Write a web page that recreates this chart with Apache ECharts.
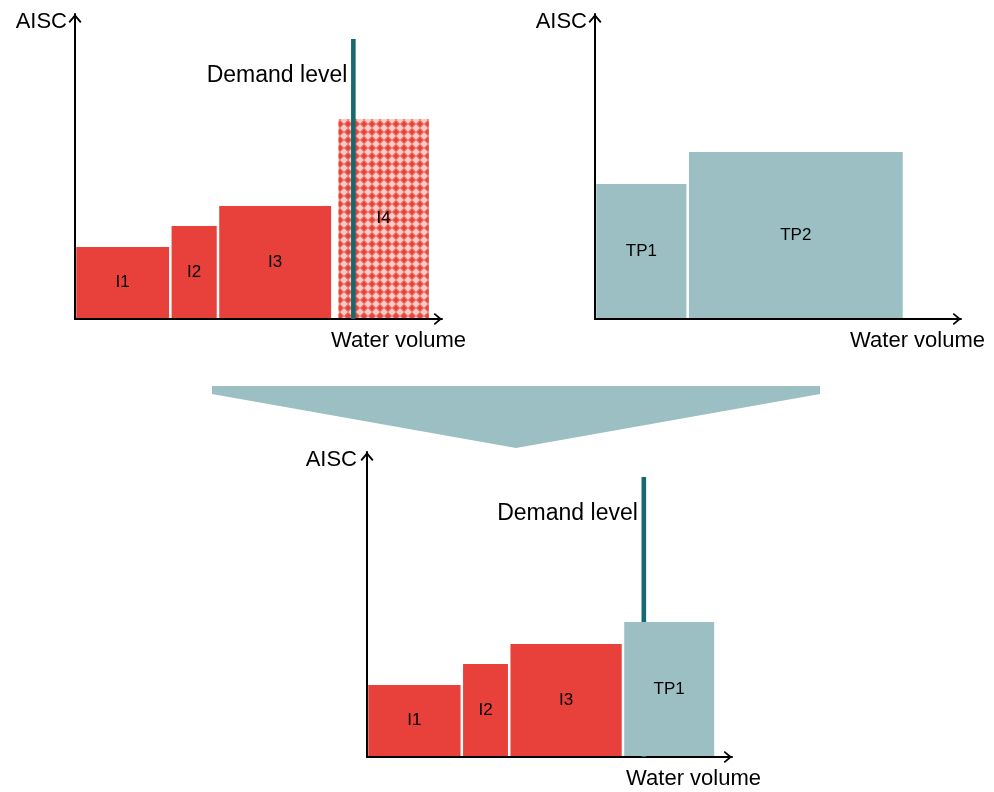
<!DOCTYPE html>
<html>
<head>
<meta charset="utf-8">
<script src="https://cdn.jsdelivr.net/npm/echarts@6/dist/echarts.min.js"></script>
<style>
  html, body { margin: 0; padding: 0; background: #ffffff; }
  #chart { width: 994px; height: 792px; }
</style>
</head>
<body>
<div id="chart"></div>
<script>
// Irrigation supply options: volume range [start, end] and average incremental supply cost
const irrNames = ['I1', 'I2', 'I3', 'I4'];
const irrStart = [0, 20, 30, 55];
const irrEnd = [20, 30, 54, 74.5];
const irrCost = [7.2, 9.3, 11.3, 20.0];
const irrHatched = [false, false, false, true];

// Treatment plant options
const tpNames = ['TP1', 'TP2'];
const tpStart = [0, 19.5];
const tpEnd = [19.5, 65];
const tpCost = [13.5, 16.7];

// Combined least-cost supply curve
const mixNames = ['I1', 'I2', 'I3', 'TP1'];
const mixStart = [0, 20, 30, 54];
const mixEnd = [20, 30, 54, 73.5];
const mixCost = [7.2, 9.3, 11.3, 13.5];
const mixKind = ['irr', 'irr', 'irr', 'tp'];

// Demand level marker
const demandVolume = 58.4;
const demandHeight = 28;
const demandLabelAt = 24.35;
const demandText = 'Demand level';

// Axis titles
const yTitle = 'AISC';
const xTitle = 'Water volume';

const FONT = '"Liberation Sans", Arial, Helvetica, sans-serif';
const RED = '#E8403A';
const TEAL = '#9BBFC2';
const DEMAND = '#176970';
const GAP = 1.25;
const X_MAX = 77;
const Y_MAX = 30.5;

// Diamond-lattice fill for the irrigation option lying beyond demand
function makeHatch() {
  const c = document.createElement('canvas');
  c.width = 8; c.height = 8;
  const g = c.getContext('2d');
  for (let y = 0; y < 8; y++) {
    for (let x = 0; x < 8; x++) {
      const d = Math.abs(x - 3.5) + Math.abs(y - 3.5);
      g.fillStyle = d <= 3 ? '#EC5D54' : (d <= 4 ? '#F08880' : '#F9CBC7');
      g.fillRect(x, y, 1, 1);
    }
  }
  g.fillStyle = '#E8443A';
  g.fillRect(3, 2, 2, 4);
  g.fillRect(2, 3, 4, 2);
  return { image: c, repeat: 'repeat' };
}
const hatch = makeHatch();

// Open arrow head for axis ends
const ARROW = 'path://M6 0 L12 7.2 L10.7 8.3 L6 2.8 L1.3 8.3 L0 7.2 Z';

function makeXAxis(gridIndex, nameGap) {
  return {
    gridIndex, type: 'value', min: 0, max: X_MAX,
    name: xTitle, nameLocation: 'end', nameGap: nameGap,
    nameTextStyle: { fontSize: 22, fontFamily: FONT, color: '#000', align: 'right', verticalAlign: 'top', padding: [11, 0, 0, 0] },
    axisLine: { show: true, lineStyle: { color: '#000', width: 2 }, symbol: ['none', ARROW], symbolSize: [12, 8.3], symbolOffset: [0, -4.15] },
    axisTick: { show: false }, axisLabel: { show: false }, splitLine: { show: false }
  };
}
function makeYAxis(gridIndex, padRight) {
  return {
    gridIndex, type: 'value', min: 0, max: Y_MAX,
    name: yTitle, nameLocation: 'end', nameGap: -8,
    nameTextStyle: { fontSize: 22, fontFamily: FONT, color: '#000', align: 'right', verticalAlign: 'middle', padding: [0, padRight, 0, 0] },
    axisLine: { show: true, lineStyle: { color: '#000', width: 2 }, symbol: ['none', ARROW], symbolSize: [13, 9], symbolOffset: [0, -4.5] },
    axisTick: { show: false }, axisLabel: { show: false }, splitLine: { show: false }
  };
}

function blockRenderer(names, fills) {
  return function (params, api) {
    const i = params.dataIndex;
    const p0 = api.coord([api.value(0), 0]);
    const p1 = api.coord([api.value(1), api.value(2)]);
    return {
      type: 'rect',
      shape: { x: p0[0] + GAP, y: p1[1], width: p1[0] - p0[0] - 2 * GAP, height: p0[1] - p1[1] - 1 },
      style: { fill: fills[i] },
      textContent: { type: 'text', style: { text: names[i], fontSize: 17, fontFamily: FONT, fill: '#000' } },
      textConfig: { position: 'inside' }
    };
  };
}

function demandRenderer(params, api) {
  const base = api.coord([api.value(0), 0]);
  const top = api.coord([api.value(0), api.value(1)]);
  const lbl = api.coord([api.value(0), api.value(2)]);
  return {
    type: 'group',
    children: [
      { type: 'rect', shape: { x: base[0] - 2.3, y: top[1], width: 4.6, height: base[1] - top[1] }, style: { fill: DEMAND } },
      { type: 'text', x: lbl[0] - 6, y: lbl[1],
        style: { text: demandText, fontSize: 23, fontFamily: FONT, fill: '#000', align: 'right', verticalAlign: 'middle' } }
    ]
  };
}

const irrData = irrStart.map((s, i) => [s, irrEnd[i], irrCost[i]]);
const tpData = tpStart.map((s, i) => [s, tpEnd[i], tpCost[i]]);
const mixData = mixStart.map((s, i) => [s, mixEnd[i], mixCost[i]]);
const demandData = [[demandVolume, demandHeight, demandLabelAt]];

const option = {
  animation: false,
  backgroundColor: '#ffffff',
  grid: [
    { left: 75, top: 14, width: 367, height: 305 },
    { left: 595, top: 14, width: 366, height: 305 },
    { left: 367, top: 452, width: 365, height: 305 }
  ],
  xAxis: [makeXAxis(0, 24), makeXAxis(1, 24), makeXAxis(2, 29)],
  yAxis: [makeYAxis(0, 8), makeYAxis(1, 8), makeYAxis(2, 10)],
  series: [
    {
      type: 'custom', name: 'Irrigation', xAxisIndex: 0, yAxisIndex: 0, z: 2,
      renderItem: blockRenderer(irrNames, irrHatched.map(h => h ? hatch : RED)),
      encode: { x: [0, 1], y: 2 }, data: irrData
    },
    {
      type: 'custom', name: 'Demand', xAxisIndex: 0, yAxisIndex: 0, z: 3,
      renderItem: demandRenderer, encode: { x: 0, y: 1 }, data: demandData
    },
    {
      type: 'custom', name: 'Treatment plants', xAxisIndex: 1, yAxisIndex: 1, z: 2,
      renderItem: blockRenderer(tpNames, tpNames.map(() => TEAL)),
      encode: { x: [0, 1], y: 2 }, data: tpData
    },
    {
      type: 'custom', name: 'Demand (combined)', xAxisIndex: 2, yAxisIndex: 2, z: 1,
      renderItem: demandRenderer, encode: { x: 0, y: 1 }, data: demandData
    },
    {
      type: 'custom', name: 'Combined', xAxisIndex: 2, yAxisIndex: 2, z: 2,
      renderItem: blockRenderer(mixNames, mixKind.map(k => k === 'tp' ? TEAL : RED)),
      encode: { x: [0, 1], y: 2 }, data: mixData
    }
  ],
  graphic: [
    {
      type: 'polygon', silent: true,
      shape: { points: [[212, 386], [820, 386], [820, 394], [516, 448], [212, 394]] },
      style: { fill: TEAL }
    }
  ]
};

const chart = echarts.init(document.getElementById('chart'), null, { renderer: 'canvas' });
chart.setOption(option);
</script>
</body>
</html>
